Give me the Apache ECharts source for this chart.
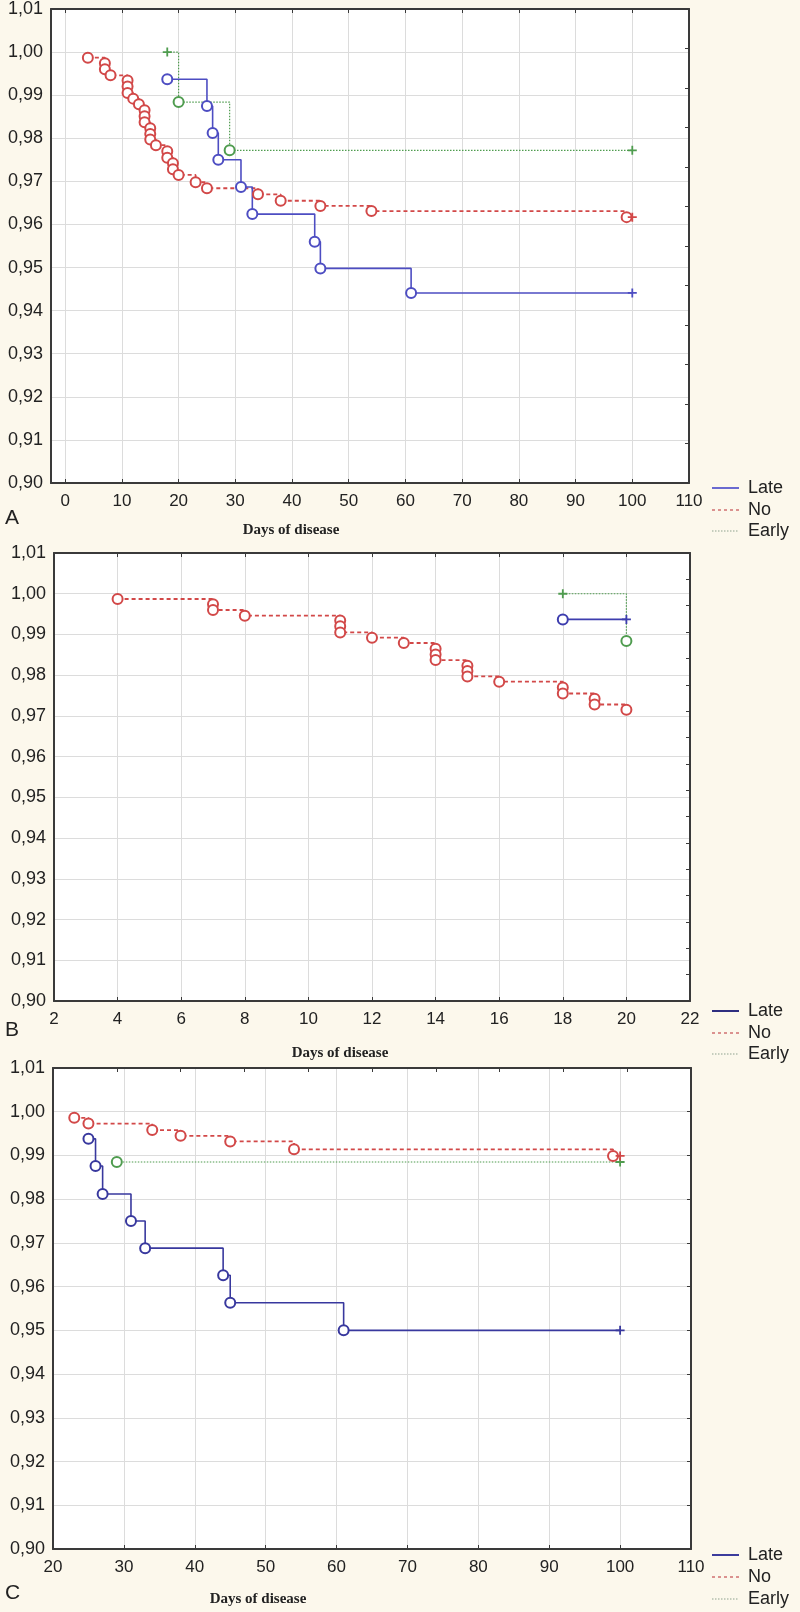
<!DOCTYPE html>
<html>
<head>
<meta charset="utf-8">
<title>Days of disease</title>
<script src="https://cdn.jsdelivr.net/npm/echarts@6/dist/echarts.min.js"></script>
<style>
  html, body { margin: 0; padding: 0; background: #fcf8ec; }
  #main { width: 800px; height: 1612px; }
</style>
</head>
<body>
<div id="main"></div>
<script>
// ticks
const xTicksA = [0, 10, 20, 30, 40, 50, 60, 70, 80, 90, 100, 110];
const xTicksB = [2, 4, 6, 8, 10, 12, 14, 16, 18, 20, 22];
const xTicksC = [20, 30, 40, 50, 60, 70, 80, 90, 100, 110];
const yTicks = [0.90, 0.91, 0.92, 0.93, 0.94, 0.95, 0.96, 0.97, 0.98, 0.99, 1.00, 1.01];
const legendNames = ["Late", "No", "Early"];

// A - whole period ('e' = event, 'c' = censored)
const lateA_x = [18, 25, 26, 27, 31, 33, 44, 45, 61, 100];
const lateA_y = [0.9937, 0.9875, 0.9812, 0.9750, 0.9687, 0.9624, 0.9560, 0.9498, 0.9441, 0.9441];
const lateA_st = ["e", "e", "e", "e", "e", "e", "e", "e", "e", "c"];

const noA_x = [4, 7, 7, 8, 11, 11, 11, 12, 13, 14, 14, 14, 15, 15, 15, 16, 18, 18, 19, 19, 20, 23, 25, 34, 38, 45, 54, 99, 100];
const noA_y = [0.9987, 0.9974, 0.9960, 0.9946, 0.9934, 0.9920, 0.9905, 0.9892, 0.9879, 0.9865, 0.9851, 0.9837, 0.9823, 0.9810, 0.9797, 0.9784, 0.9770, 0.9755, 0.9742, 0.9728, 0.9715, 0.9698, 0.9684, 0.9670, 0.9655, 0.9643, 0.9631, 0.9617, 0.9617];
const noA_st = ["e", "e", "e", "e", "e", "e", "e", "e", "e", "e", "e", "e", "e", "e", "e", "e", "e", "e", "e", "e", "e", "e", "e", "e", "e", "e", "e", "e", "c"];

const earlyA_x = [18, 20, 29, 100];
const earlyA_y = [1.0000, 0.9884, 0.9772, 0.9772];
const earlyA_st = ["c", "e", "e", "c"];

// B - first 20 days
const lateB_x = [18, 20];
const lateB_y = [0.9937, 0.9937];
const lateB_st = ["e", "c"];

const noB_x = [4, 7, 7, 8, 11, 11, 11, 12, 13, 14, 14, 14, 15, 15, 15, 16, 18, 18, 19, 19, 20];
const noB_y = [0.9987, 0.9974, 0.9960, 0.9946, 0.9934, 0.9920, 0.9905, 0.9892, 0.9879, 0.9865, 0.9851, 0.9837, 0.9823, 0.9810, 0.9797, 0.9784, 0.9770, 0.9755, 0.9742, 0.9728, 0.9715];
const noB_st = ["e", "e", "e", "e", "e", "e", "e", "e", "e", "e", "e", "e", "e", "e", "e", "e", "e", "e", "e", "e", "e"];

const earlyB_x = [18, 20];
const earlyB_y = [1.0000, 0.9884];
const earlyB_st = ["c", "e"];

// C - after day 20
const lateC_x = [25, 26, 27, 31, 33, 44, 45, 61, 100];
const lateC_y = [0.9938, 0.9876, 0.9812, 0.9750, 0.9688, 0.9626, 0.9563, 0.9500, 0.9500];
const lateC_st = ["e", "e", "e", "e", "e", "e", "e", "e", "c"];

const noC_x = [23, 25, 34, 38, 45, 54, 99, 100];
const noC_y = [0.9986, 0.9973, 0.9958, 0.9945, 0.9932, 0.9914, 0.9899, 0.9899];
const noC_st = ["e", "e", "e", "e", "e", "e", "e", "c"];

const earlyC_x = [29, 100];
const earlyC_y = [0.9885, 0.9885];
const earlyC_st = ["e", "c"];

const PLUS = "path://M4,0H6V4H10V6H6V10H4V6H0V4H4Z";
const FONT = '"Liberation Sans", Arial, sans-serif';
const FRAME = "#3a3a3a";
const RED = "#d24848";
const GREEN = "#4f9c4f";

function kmData(xs, ys, st) {
  return xs.map(function(x, i) {
    const cens = st[i] === "c";
    return {
      value: [x, ys[i]],
      symbol: cens ? PLUS : "emptyCircle",
      symbolSize: cens ? 9 : 10,
      itemStyle: cens ? { borderWidth: 0 } : { borderWidth: 1.5 }
    };
  });
}

function kmSeries(name, gi, data, color, type, width) {
  return {
    name: name,
    type: "line",
    step: "end",
    xAxisIndex: gi * 2,
    yAxisIndex: gi * 2,
    data: data,
    showAllSymbol: true,
    lineStyle: { color: color, width: width, type: type },
    itemStyle: { color: color, borderColor: color },
    emphasis: { disabled: true }
  };
}

function yLabel(v) {
  return v.toFixed(2).replace(".", ",");
}

/** bottom x axis, with labels and split lines */
function bottomX(gi, ticks, min) {
  return {
    type: "value",
    gridIndex: gi,
    position: "bottom",
    min: min,
    max: ticks[ticks.length - 1],
    axisLine: { show: true, onZero: false, lineStyle: { color: FRAME, width: 2 } },
    axisTick: { show: true, inside: true, length: 4, customValues: ticks, lineStyle: { color: FRAME } },
    axisLabel: {
      show: true,
      customValues: ticks,
      margin: 10,
      color: "#222",
      fontSize: 17,
      fontFamily: FONT,
      showMinLabel: true,
      showMaxLabel: true
    },
    splitLine: { show: true, lineStyle: { color: "#dcdcdc", width: 1 } }
  };
}

/** top x axis: only ticks */
function topX(gi, ticks, min) {
  return {
    type: "value",
    gridIndex: gi,
    position: "top",
    min: min,
    max: ticks[ticks.length - 1],
    axisLine: { show: true, onZero: false, lineStyle: { color: FRAME, width: 2 } },
    axisTick: { show: true, inside: true, length: 4, customValues: ticks, lineStyle: { color: FRAME } },
    axisLabel: { show: false },
    splitLine: { show: false }
  };
}

function leftY(gi) {
  return {
    type: "value",
    gridIndex: gi,
    position: "left",
    min: yTicks[0],
    max: yTicks[yTicks.length - 1],
    interval: 0.01,
    axisLine: { show: true, onZero: false, lineStyle: { color: FRAME, width: 2 } },
    axisTick: { show: false },
    axisLabel: {
      margin: 8,
      color: "#222",
      fontSize: 18,
      fontFamily: FONT,
      formatter: yLabel
    },
    splitLine: { show: true, lineStyle: { color: "#dcdcdc", width: 1 } }
  };
}

// right border carries its own tick marks
function rightY(gi, max) {
  return {
    type: "value",
    gridIndex: gi,
    position: "right",
    min: 0,
    max: max,
    interval: 1,
    axisLine: { show: true, onZero: false, lineStyle: { color: FRAME, width: 2 } },
    axisTick: { show: true, inside: true, length: 4, lineStyle: { color: FRAME } },
    axisLabel: { show: false },
    splitLine: { show: false }
  };
}

function legendGraphic(rows, lateColor) {
  const styles = [
    { stroke: lateColor, lineWidth: 2, lineDash: null },
    { stroke: "#d07070", lineWidth: 1.5, lineDash: [3, 3] },
    { stroke: "#8ea28e", lineWidth: 1.2, lineDash: [1.5, 1.5] }
  ];
  let out = [];
  for (let i = 0; i < legendNames.length; i++) {
    out.push({
      type: "line",
      shape: { x1: 712, y1: rows[i], x2: 739, y2: rows[i] },
      style: styles[i]
    });
    out.push({
      type: "text",
      x: 748,
      y: rows[i],
      style: {
        text: legendNames[i],
        fill: "#222",
        font: "18px " + FONT,
        verticalAlign: "middle"
      }
    });
  }
  return out;
}

function axisTitle(cx, cy) {
  return {
    type: "text",
    x: cx,
    y: cy,
    style: {
      text: "Days of disease",
      fill: "#222",
      font: 'bold 15px "Liberation Serif", "Times New Roman", serif',
      align: "center",
      verticalAlign: "middle"
    }
  };
}

function panelLetter(letter, y) {
  return {
    type: "text",
    x: 5,
    y: y,
    style: { text: letter, fill: "#222", font: "21px " + FONT, verticalAlign: "middle" }
  };
}

const chart = echarts.init(document.getElementById("main"));

const option = {
  backgroundColor: "#fcf8ec",
  animation: false,
  grid: [
    { left: 51, top: 8, width: 638, height: 475, show: true, backgroundColor: "#fff", borderWidth: 0 },
    { left: 54, top: 553, width: 636, height: 448, show: true, backgroundColor: "#fff", borderWidth: 0 },
    { left: 53, top: 1068, width: 638, height: 481, show: true, backgroundColor: "#fff", borderWidth: 0 }
  ],
  xAxis: [
    bottomX(0, xTicksA, -2.5),
    topX(0, xTicksA, -2.5),
    bottomX(1, xTicksB, xTicksB[0]),
    topX(1, xTicksB, xTicksB[0]),
    bottomX(2, xTicksC, xTicksC[0]),
    // the top ticks of C are the ones of B in the original
    topX(2, xTicksB, xTicksB[0])
  ],
  yAxis: [
    leftY(0),
    rightY(0, 12),
    leftY(1),
    rightY(1, 17),
    leftY(2),
    rightY(2, 11)
  ],
  series: [
    kmSeries("Early", 0, kmData(earlyA_x, earlyA_y, earlyA_st), GREEN, [1.5, 1.5], 1.2),
    kmSeries("No", 0, kmData(noA_x, noA_y, noA_st), RED, [4, 3], 1.8),
    kmSeries("Late", 0, kmData(lateA_x, lateA_y, lateA_st), "#4d4dc2", "solid", 1.6),

    kmSeries("Early", 1, kmData(earlyB_x, earlyB_y, earlyB_st), GREEN, [1.5, 1.5], 1.2),
    kmSeries("No", 1, kmData(noB_x, noB_y, noB_st), RED, [4, 3], 1.8),
    kmSeries("Late", 1, kmData(lateB_x, lateB_y, lateB_st), "#3d3dae", "solid", 1.6),

    kmSeries("Early", 2, kmData(earlyC_x, earlyC_y, earlyC_st), GREEN, [1.5, 1.5], 1.2),
    kmSeries("No", 2, kmData(noC_x, noC_y, noC_st), RED, [4, 3], 1.8),
    kmSeries("Late", 2, kmData(lateC_x, lateC_y, lateC_st), "#38389e", "solid", 1.6)
  ],
  graphic: [
    panelLetter("A", 518),
    panelLetter("B", 1030),
    panelLetter("C", 1593),
    axisTitle(291, 530),
    axisTitle(340, 1053),
    axisTitle(258, 1599)
  ]
    .concat(legendGraphic([488, 510, 531], "#6a6ad0"))
    .concat(legendGraphic([1011, 1033, 1054], "#2e2e80"))
    .concat(legendGraphic([1555, 1577, 1599], "#3c3c9c"))
};

chart.setOption(option);
</script>
</body>
</html>
